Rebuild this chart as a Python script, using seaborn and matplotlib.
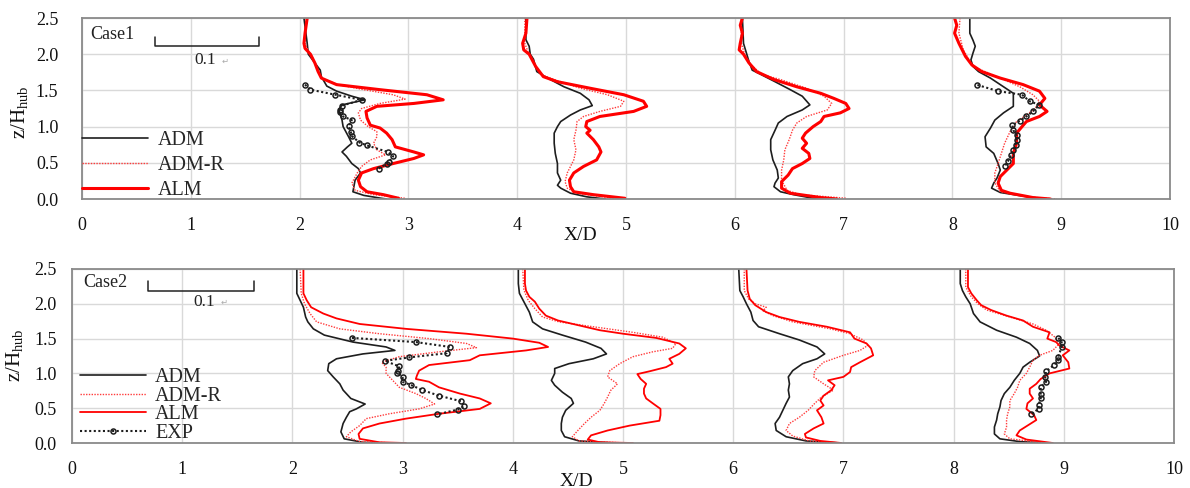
import numpy as np
import pandas as pd
import seaborn as sns
import matplotlib.pyplot as plt
from matplotlib.lines import Line2D

# 剖面位置 X/D
stations = [2, 4, 6, 8]

# 各剖面曲线: (相对剖面位置的水平偏移, z/Hhub)，比例尺 0.1 对应 0.96 X/D
# ---------------- Case1 ----------------
c1_adm_2 = [(0.04,2.50),(0.07,2.15),(0.08,2.00),(0.19,1.78),(0.20,1.69),(0.25,1.56),(0.34,1.49),(0.48,1.42),(0.60,1.37),(0.39,1.30),(0.36,1.23),(0.39,1.09),(0.40,1.00),(0.45,0.86),(0.48,0.77),(0.44,0.72),(0.39,0.65),(0.43,0.59),(0.48,0.49),(0.54,0.42),(0.56,0.36),(0.51,0.26),(0.49,0.10),(0.59,0.05),(0.75,0.01),(0.80,0.0)]
c1_admr_2 = [(0.06,2.50),(0.05,2.29),(0.05,2.15),(0.08,2.05),(0.12,1.95),(0.16,1.80),(0.20,1.67),(0.35,1.58),(0.59,1.51),(0.86,1.44),(0.97,1.38),(0.74,1.32),(0.57,1.25),(0.54,1.19),(0.56,1.09),(0.63,1.00),(0.71,0.93),(0.71,0.86),(0.68,0.77),(0.71,0.68),(0.79,0.61),(0.65,0.54),(0.57,0.45),(0.53,0.36),(0.48,0.22),(0.51,0.12),(0.68,0.06),(0.97,0.01)]
c1_alm_2 = [(0.07,2.50),(0.05,2.29),(0.04,2.15),(0.05,2.08),(0.10,2.00),(0.14,1.88),(0.17,1.76),(0.20,1.67),(0.34,1.58),(0.74,1.51),(1.17,1.44),(1.32,1.37),(1.05,1.32),(0.71,1.28),(0.61,1.21),(0.62,1.12),(0.65,1.02),(0.74,0.98),(0.80,0.91),(0.85,0.82),(0.88,0.72),(1.05,0.65),(1.14,0.61),(1.05,0.56),(0.86,0.49),(0.68,0.42),(0.57,0.36),(0.54,0.26),(0.56,0.17),(0.62,0.10),(0.77,0.06),(0.91,0.01)]
c1_exp_2 = [(0.05,1.58),(0.10,1.51),(0.33,1.44),(0.57,1.37),(0.39,1.29),(0.37,1.23),(0.37,1.20),(0.40,1.14),(0.48,1.09),(0.45,1.01),(0.47,0.93),(0.48,0.87),(0.55,0.78),(0.62,0.74),(0.81,0.65),(0.86,0.59),(0.82,0.51),(0.80,0.49),(0.73,0.42)]

c1_adm_4 = [(0.08,2.50),(0.08,2.20),(0.11,2.11),(0.12,2.00),(0.15,1.93),(0.18,1.76),(0.28,1.67),(0.43,1.55),(0.58,1.46),(0.66,1.37),(0.69,1.29),(0.58,1.23),(0.49,1.16),(0.40,1.07),(0.37,1.00),(0.34,0.91),(0.34,0.77),(0.35,0.63),(0.37,0.49),(0.37,0.36),(0.40,0.26),(0.37,0.19),(0.40,0.15),(0.49,0.08),(0.64,0.03),(0.81,0.0)]
c1_admr_4 = [(0.07,2.50),(0.07,2.29),(0.07,2.15),(0.10,2.03),(0.16,1.85),(0.22,1.72),(0.34,1.65),(0.58,1.53),(0.83,1.44),(0.98,1.35),(0.95,1.28),(0.76,1.21),(0.61,1.14),(0.55,1.07),(0.54,0.95),(0.52,0.82),(0.54,0.68),(0.52,0.54),(0.49,0.45),(0.46,0.36),(0.44,0.24),(0.46,0.15),(0.55,0.08),(0.89,0.01)]
c1_alm_4 = [(0.09,2.50),(0.08,2.29),(0.05,2.15),(0.06,2.06),(0.11,2.00),(0.17,1.83),(0.24,1.69),(0.37,1.62),(0.67,1.53),(0.98,1.44),(1.16,1.35),(1.19,1.28),(1.07,1.21),(0.76,1.14),(0.64,1.07),(0.63,1.00),(0.67,0.95),(0.64,0.91),(0.70,0.82),(0.75,0.72),(0.77,0.65),(0.73,0.54),(0.61,0.45),(0.52,0.36),(0.48,0.26),(0.49,0.17),(0.52,0.10),(0.70,0.06),(0.99,0.01)]

c1_adm_6 = [(0.07,2.50),(0.08,2.15),(0.11,2.00),(0.13,1.90),(0.16,1.78),(0.24,1.72),(0.37,1.62),(0.51,1.51),(0.62,1.42),(0.69,1.30),(0.62,1.23),(0.48,1.14),(0.40,1.05),(0.37,0.95),(0.33,0.82),(0.33,0.68),(0.35,0.54),(0.39,0.40),(0.40,0.29),(0.37,0.22),(0.36,0.17),(0.42,0.10),(0.54,0.06),(0.72,0.01),(0.80,0.0)]
c1_admr_6 = [(0.06,2.50),(0.06,2.29),(0.06,2.15),(0.09,2.00),(0.15,1.85),(0.25,1.72),(0.42,1.65),(0.66,1.53),(0.82,1.42),(0.89,1.32),(0.85,1.23),(0.66,1.14),(0.57,1.05),(0.53,0.95),(0.50,0.82),(0.46,0.68),(0.45,0.54),(0.43,0.40),(0.43,0.26),(0.48,0.12),(0.60,0.06),(1.03,0.01)]
c1_alm_6 = [(0.07,2.50),(0.05,2.40),(0.07,2.29),(0.05,2.15),(0.04,2.06),(0.08,2.00),(0.13,1.88),(0.20,1.76),(0.36,1.65),(0.57,1.55),(0.79,1.46),(0.91,1.39),(1.02,1.32),(1.05,1.25),(0.97,1.19),(0.82,1.14),(0.79,1.07),(0.72,1.00),(0.65,0.91),(0.62,0.84),(0.66,0.77),(0.62,0.70),(0.68,0.63),(0.69,0.56),(0.62,0.49),(0.53,0.42),(0.49,0.33),(0.43,0.24),(0.43,0.15),(0.51,0.08),(0.79,0.02),(0.94,0.0)]

c1_adm_8 = [(0.16,2.50),(0.16,2.29),(0.19,2.19),(0.21,2.11),(0.19,2.02),(0.17,1.92),(0.19,1.83),(0.24,1.76),(0.35,1.67),(0.47,1.55),(0.56,1.46),(0.56,1.37),(0.56,1.28),(0.47,1.19),(0.39,1.09),(0.35,0.98),(0.30,0.86),(0.31,0.72),(0.38,0.63),(0.42,0.49),(0.44,0.40),(0.41,0.29),(0.38,0.22),(0.36,0.15),(0.44,0.09),(0.65,0.04),(0.80,0.01)]
c1_admr_8 = [(0.07,2.50),(0.06,2.29),(0.10,2.06),(0.19,1.83),(0.41,1.69),(0.62,1.55),(0.74,1.44),(0.80,1.35),(0.76,1.25),(0.68,1.16),(0.59,1.07),(0.53,0.93),(0.48,0.77),(0.45,0.63),(0.42,0.49),(0.39,0.36),(0.39,0.22),(0.44,0.10),(0.68,0.03),(0.96,0.0)]
c1_alm_8 = [(0.02,2.50),(0.04,2.40),(0.02,2.29),(0.06,2.15),(0.09,2.06),(0.12,1.97),(0.18,1.85),(0.27,1.76),(0.44,1.67),(0.65,1.58),(0.80,1.49),(0.85,1.39),(0.80,1.30),(0.87,1.21),(0.80,1.14),(0.68,1.07),(0.64,1.00),(0.59,0.91),(0.59,0.77),(0.56,0.63),(0.56,0.49),(0.50,0.40),(0.44,0.31),(0.42,0.22),(0.45,0.12),(0.53,0.08),(0.74,0.02),(0.90,0.0)]
c1_exp_8 = [(0.23,1.575),(0.42,1.49),(0.64,1.44),(0.71,1.35),(0.80,1.30),(0.74,1.21),(0.68,1.14),(0.62,1.08),(0.55,1.02),(0.56,0.95),(0.59,0.88),(0.59,0.81),(0.58,0.75),(0.56,0.68),(0.54,0.61),(0.51,0.52),(0.48,0.45)]

# ---------------- Case2 ----------------
c2_adm_2 = [(0.04,2.50),(0.04,2.15),(0.07,2.05),(0.10,1.95),(0.11,1.88),(0.12,1.81),(0.14,1.74),(0.19,1.64),(0.29,1.55),(0.55,1.45),(0.85,1.38),(0.93,1.33),(0.64,1.28),(0.40,1.21),(0.33,1.14),(0.32,1.04),(0.37,0.95),(0.43,0.85),(0.46,0.76),(0.53,0.64),(0.66,0.56),(0.58,0.49),(0.52,0.45),(0.49,0.37),(0.46,0.28),(0.44,0.16),(0.47,0.06),(0.64,0.01),(0.80,0.0)]
c2_admr_2 = [(0.07,2.50),(0.08,2.15),(0.11,2.00),(0.16,1.86),(0.22,1.74),(0.43,1.64),(0.79,1.57),(1.24,1.50),(1.58,1.43),(1.67,1.37),(1.33,1.31),(0.97,1.24),(0.81,1.16),(0.85,1.09),(0.85,1.00),(0.91,0.90),(0.97,0.80),(1.12,0.71),(1.21,0.64),(1.29,0.56),(1.15,0.49),(0.88,0.42),(0.67,0.35),(0.61,0.25),(0.53,0.16),(0.49,0.09),(0.61,0.02),(0.94,0.0)]
c2_alm_2 = [(0.10,2.50),(0.10,2.15),(0.13,2.05),(0.17,1.95),(0.28,1.86),(0.40,1.79),(0.61,1.71),(1.03,1.64),(1.58,1.57),(2.00,1.50),(2.24,1.44),(2.32,1.38),(2.12,1.33),(1.70,1.26),(1.61,1.19),(1.24,1.12),(1.15,1.04),(1.13,0.97),(1.12,0.92),(1.24,0.88),(1.33,0.80),(1.52,0.71),(1.70,0.64),(1.80,0.57),(1.70,0.49),(1.33,0.42),(1.03,0.35),(0.79,0.28),(0.64,0.21),(0.60,0.13),(0.61,0.06),(0.79,0.01),(1.03,0.0)]
c2_exp_2 = [(0.54,1.51),(1.12,1.45),(1.43,1.38),(1.40,1.29),(1.06,1.23),(0.84,1.18),(0.97,1.10),(0.96,1.03),(0.95,1.01),(1.00,0.95),(1.00,0.88),(1.08,0.83),(1.18,0.76),(1.33,0.68),(1.53,0.60),(1.56,0.53),(1.50,0.48),(1.31,0.41)]

c2_adm_4 = [(0.05,2.50),(0.05,2.29),(0.06,2.15),(0.11,2.00),(0.15,1.88),(0.18,1.74),(0.27,1.64),(0.45,1.55),(0.66,1.45),(0.80,1.36),(0.85,1.28),(0.73,1.21),(0.51,1.14),(0.38,1.07),(0.38,1.00),(0.35,0.90),(0.38,0.83),(0.45,0.73),(0.53,0.64),(0.55,0.57),(0.48,0.47),(0.45,0.37),(0.44,0.28),(0.44,0.18),(0.47,0.09),(0.60,0.03),(0.91,0.0)]
c2_admr_4 = [(0.09,2.50),(0.10,2.20),(0.14,2.05),(0.20,1.93),(0.27,1.81),(0.42,1.74),(0.73,1.67),(1.09,1.59),(1.36,1.52),(1.48,1.43),(1.45,1.36),(1.27,1.31),(1.09,1.24),(0.97,1.14),(0.88,1.04),(0.86,0.95),(0.95,0.85),(0.89,0.76),(0.86,0.66),(0.83,0.57),(0.79,0.47),(0.71,0.37),(0.65,0.28),(0.59,0.18),(0.54,0.09),(0.60,0.03),(1.03,0.0)]
c2_alm_4 = [(0.11,2.50),(0.11,2.29),(0.12,2.19),(0.15,2.10),(0.20,2.03),(0.24,1.93),(0.30,1.83),(0.41,1.76),(0.60,1.69),(0.79,1.62),(1.00,1.57),(1.30,1.51),(1.51,1.43),(1.57,1.36),(1.51,1.28),(1.42,1.21),(1.45,1.14),(1.39,1.09),(1.24,1.03),(1.13,0.99),(1.16,0.92),(1.21,0.85),(1.19,0.78),(1.19,0.71),(1.21,0.64),(1.27,0.57),(1.34,0.49),(1.34,0.40),(1.33,0.32),(1.06,0.25),(0.86,0.18),(0.71,0.11),(0.68,0.05),(0.79,0.01),(1.09,0.0)]

c2_adm_6 = [(0.05,2.50),(0.06,2.19),(0.09,2.10),(0.12,2.00),(0.16,1.88),(0.18,1.76),(0.23,1.67),(0.42,1.57),(0.60,1.48),(0.76,1.38),(0.83,1.28),(0.76,1.21),(0.63,1.14),(0.54,1.04),(0.50,0.95),(0.51,0.85),(0.50,0.76),(0.51,0.66),(0.48,0.57),(0.45,0.47),(0.42,0.37),(0.38,0.28),(0.39,0.18),(0.48,0.09),(0.66,0.03),(0.97,0.0)]
c2_admr_6 = [(0.10,2.50),(0.10,2.19),(0.14,2.07),(0.20,2.00),(0.30,1.95),(0.27,1.90),(0.36,1.83),(0.54,1.74),(0.88,1.64),(1.06,1.57),(1.18,1.48),(1.22,1.40),(1.15,1.33),(1.00,1.26),(0.82,1.16),(0.74,1.04),(0.73,0.95),(0.82,0.85),(0.91,0.76),(0.80,0.66),(0.74,0.57),(0.68,0.47),(0.60,0.37),(0.51,0.28),(0.48,0.18),(0.54,0.10),(0.69,0.03),(0.94,0.0)]
c2_alm_6 = [(0.12,2.50),(0.13,2.19),(0.15,2.07),(0.20,1.98),(0.30,1.88),(0.42,1.81),(0.60,1.74),(0.85,1.67),(1.06,1.59),(1.10,1.50),(1.21,1.43),(1.25,1.36),(1.27,1.26),(1.15,1.16),(1.07,1.09),(1.06,1.02),(1.00,0.95),(0.86,0.90),(0.92,0.83),(0.89,0.76),(0.82,0.68),(0.79,0.61),(0.82,0.54),(0.76,0.47),(0.80,0.37),(0.82,0.28),(0.73,0.21),(0.65,0.13),(0.66,0.08),(0.79,0.03),(0.98,0.0)]

c2_adm_8 = [(0.06,2.50),(0.06,2.29),(0.08,2.19),(0.11,2.10),(0.15,2.00),(0.18,1.86),(0.24,1.74),(0.39,1.62),(0.57,1.52),(0.69,1.43),(0.76,1.33),(0.78,1.25),(0.69,1.16),(0.63,1.09),(0.60,1.00),(0.55,0.90),(0.51,0.80),(0.46,0.71),(0.43,0.61),(0.42,0.52),(0.40,0.42),(0.39,0.33),(0.37,0.23),(0.37,0.13),(0.42,0.06),(0.60,0.02),(0.87,0.0)]
c2_admr_8 = [(0.11,2.50),(0.11,2.24),(0.16,2.10),(0.22,2.00),(0.30,1.91),(0.51,1.81),(0.72,1.71),(0.84,1.62),(0.92,1.52),(0.96,1.43),(0.90,1.33),(0.78,1.26),(0.72,1.19),(0.69,1.09),(0.66,1.00),(0.60,0.90),(0.58,0.80),(0.55,0.71),(0.51,0.61),(0.51,0.52),(0.49,0.42),(0.48,0.33),(0.48,0.23),(0.46,0.13),(0.51,0.06),(0.84,0.0)]
c2_alm_8 = [(0.13,2.50),(0.13,2.24),(0.16,2.15),(0.21,2.05),(0.25,1.98),(0.34,1.91),(0.48,1.83),(0.63,1.76),(0.72,1.67),(0.87,1.59),(0.85,1.50),(0.93,1.45),(0.96,1.40),(1.05,1.33),(0.99,1.26),(1.04,1.16),(1.05,1.07),(0.87,1.00),(0.79,0.92),(0.75,0.85),(0.69,0.78),(0.69,0.71),(0.72,0.64),(0.67,0.57),(0.66,0.49),(0.73,0.40),(0.75,0.33),(0.67,0.25),(0.60,0.18),(0.57,0.11),(0.66,0.05),(0.90,0.0)]
c2_exp_8 = [(0.95,1.51),(0.98,1.45),(0.98,1.38),(0.95,1.24),(0.95,1.19),(0.91,1.12),(0.84,1.03),(0.83,0.95),(0.84,0.88),(0.79,0.80),(0.79,0.71),(0.79,0.64),(0.77,0.54),(0.77,0.49),(0.70,0.41)]

case1 = {('ADM', 2): c1_adm_2, ('ADM-R', 2): c1_admr_2, ('ALM', 2): c1_alm_2, ('EXP', 2): c1_exp_2,
         ('ADM', 4): c1_adm_4, ('ADM-R', 4): c1_admr_4, ('ALM', 4): c1_alm_4,
         ('ADM', 6): c1_adm_6, ('ADM-R', 6): c1_admr_6, ('ALM', 6): c1_alm_6,
         ('ADM', 8): c1_adm_8, ('ADM-R', 8): c1_admr_8, ('ALM', 8): c1_alm_8, ('EXP', 8): c1_exp_8}
case2 = {('ADM', 2): c2_adm_2, ('ADM-R', 2): c2_admr_2, ('ALM', 2): c2_alm_2, ('EXP', 2): c2_exp_2,
         ('ADM', 4): c2_adm_4, ('ADM-R', 4): c2_admr_4, ('ALM', 4): c2_alm_4,
         ('ADM', 6): c2_adm_6, ('ADM-R', 6): c2_admr_6, ('ALM', 6): c2_alm_6,
         ('ADM', 8): c2_adm_8, ('ADM-R', 8): c2_admr_8, ('ALM', 8): c2_alm_8, ('EXP', 8): c2_exp_8}


def to_frame(curves):
    rows = []
    for (model, st), pts in curves.items():
        for dx, z in pts:
            rows.append((model, st, st + dx, z))
    return pd.DataFrame(rows, columns=['model', 'station', 'x', 'z'])


sns.set_theme(style='white')
plt.rcParams['font.family'] = ['Liberation Serif', 'DejaVu Sans']
plt.rcParams['mathtext.fontset'] = 'custom'
plt.rcParams['mathtext.rm'] = 'Liberation Serif'

RED = '#ff0000'
BLK = '#1e1e1e'


def styles(alm_lw):
    return {
        'ADM': dict(color=BLK, lw=1.2, ls='-'),
        'ADM-R': dict(color='#ff3b3b', lw=1.0, ls=(0, (1, 1))),
        'ALM': dict(color=RED, lw=alm_lw, ls='-'),
        'EXP': dict(color=BLK, lw=1.5, ls=(0, (1, 1.2)), marker='o', ms=3.6,
                    mfc='none', mec=BLK, mew=1.1),
    }


fig = plt.figure(figsize=(11.9, 4.88), dpi=100)
ax1 = fig.add_axes([0.0689, 0.5922, 0.9143, 0.3709])
ax2 = fig.add_axes([0.0605, 0.0922, 0.9261, 0.3566])

panels = [
    (ax1, case1, 'Case1', 2.2, ['ADM', 'ADM-R', 'ALM'],
     (0.67, 2.117, 0.121), (1.13, 1.92), (0.08, 2.27), (-0.047, 0.48), -0.155,
     17, 0.28, (0.0, -0.005)),
    (ax2, case2, 'Case2', 1.3, ['ADM', 'ADM-R', 'ALM', 'EXP'],
     (0.69, 2.19, 0.14), (1.20, 2.03), (0.10, 2.30), (-0.042, 0.506), -0.172,
     11, -0.02, (0.007, 0.0)),
]

for (ax, curves, name, alm_lw, leg_models, bar, bar_txt, case_xy, ylab_xy, xlab_y,
     ypad, lspace, leg_anchor) in panels:
    df = to_frame(curves)
    st = styles(alm_lw)
    for model in ['ADM', 'ADM-R', 'ALM', 'EXP']:
        sub = df[df['model'] == model]
        if sub.empty:
            continue
        kw = dict(st[model])
        sns.lineplot(data=sub, x='x', y='z', units='station', estimator=None,
                     sort=False, ax=ax, legend=False, **kw)

    ax.set_xlim(0, 10)
    ax.set_ylim(0, 2.5)
    ax.set_xticks(range(0, 11))
    ax.set_yticks(np.arange(0, 2.51, 0.5))
    ax.set_yticklabels([f'{v:.1f}' for v in np.arange(0, 2.51, 0.5)])
    ax.grid(True, color='#d9d9d9', lw=1.0)
    ax.set_axisbelow(True)
    ax.tick_params(axis='x', length=0, labelsize=13, pad=13, colors='#111111')
    ax.tick_params(axis='y', length=0, labelsize=13, pad=ypad, colors='#111111')
    for sp in ax.spines.values():
        sp.set_color('#8a8a8a')
        sp.set_linewidth(1.3)

    ax.set_xlabel('X/D', fontsize=14, color='#111111')
    ax.xaxis.set_label_coords(0.458, xlab_y)
    ax.set_ylabel(r'z/H$_{\mathrm{hub}}$', fontsize=15, color='#111111')
    ax.yaxis.set_label_coords(*ylab_xy)

    # 比例尺
    x0, yb, hgt = bar
    ax.plot([x0, x0, x0 + 0.96, x0 + 0.96], [yb + hgt, yb, yb, yb + hgt],
            color='#222222', lw=1.1)
    ax.text(bar_txt[0], bar_txt[1], '0.1', fontsize=12.5, ha='center', va='center',
            color='#222222')
    ax.text(bar_txt[0] + 0.15, bar_txt[1] - 0.02, '\u21b5', fontsize=6, ha='left',
            va='center', color='#aaaaaa')
    ax.text(case_xy[0], case_xy[1], name, fontsize=13, ha='left', va='center',
            color='#222222')

    handles = []
    for m in leg_models:
        kw = dict(st[m])
        handles.append(Line2D([], [], **kw))
    ax.legend(handles, leg_models, loc='lower left', bbox_to_anchor=leg_anchor,
              frameon=False, fontsize=14.5, handlelength=3.3, handletextpad=0.45,
              labelspacing=lspace, borderpad=0.0, borderaxespad=0.0)

fig.savefig('out.png', dpi=100)
